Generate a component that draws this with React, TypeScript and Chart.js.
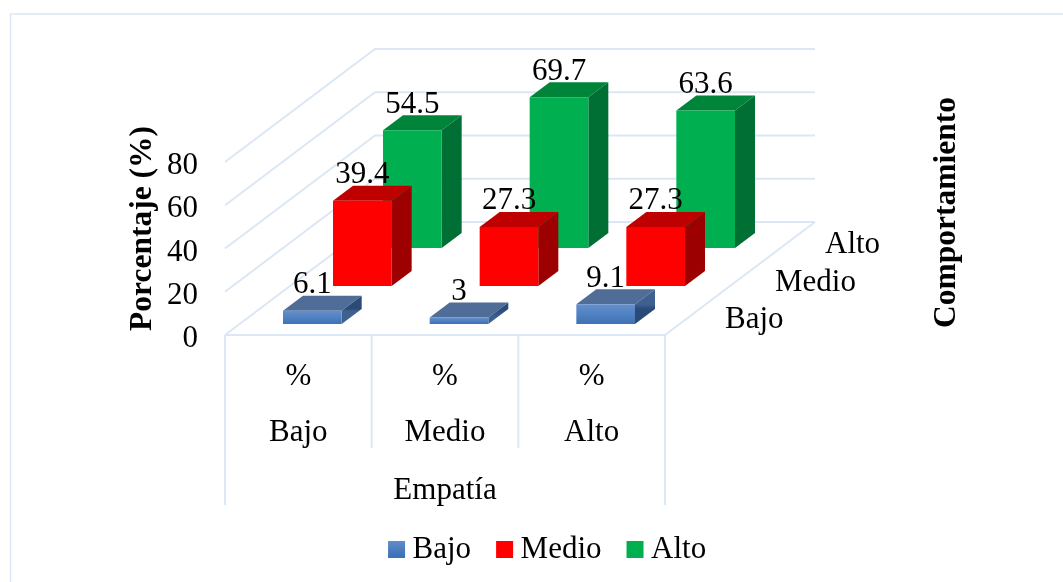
import React, { useEffect, useRef } from "react";
import { Chart, registerables } from "chart.js";

Chart.register(...registerables);

const empatiaLabels = ["Bajo", "Medio", "Alto"];
const unitLabel = "%";
const seriesNames = ["Bajo", "Medio", "Alto"];
const bajoValues = [6.1, 3, 9.1];
const medioValues = [39.4, 27.3, 27.3];
const altoValues = [54.5, 69.7, 63.6];
const yTitle = "Porcentaje (%)";
const xTitle = "Empatía";
const depthTitle = "Comportamiento";

const FONT = "'Liberation Serif', 'Times New Roman', serif";
const FS = 31;
const GRID = "#dce7f5";
// pseudo-3D geometry
const WALL_DX = 150;
const WALL_DY = -113;
const ROW_OFFSETS = [
  { dx: 14, dy: -11 },
  { dx: 64, dy: -49 },
  { dx: 114, dy: -87 },
];
const BAR_DX = 20;
const BAR_DY = -15;
const FACES = [
  { top: "#4f6d96", side: ["#3f618f", "#2a4a78"] },
  { top: "#bf0000", side: ["#9c0000", "#9c0000"] },
  { top: "#00843a", side: ["#006f33", "#006f33"] },
];

const line = (ctx: CanvasRenderingContext2D, pts: number[][]) => {
  ctx.beginPath();
  pts.forEach((p, i) => (i ? ctx.lineTo(p[0], p[1]) : ctx.moveTo(p[0], p[1])));
  ctx.stroke();
};
const poly = (ctx: CanvasRenderingContext2D, pts: number[][], fill: any) => {
  ctx.fillStyle = fill;
  ctx.beginPath();
  pts.forEach((p, i) => (i ? ctx.lineTo(p[0], p[1]) : ctx.moveTo(p[0], p[1])));
  ctx.closePath();
  ctx.fill();
};

const threeD = {
  id: "threeD",
  afterLayout(chart: any) {
    const l = chart.legend;
    l.left += 156.6;
    l.right += 156.6;
    l.top -= 7;
    l.bottom -= 7;
  },
  afterDatasetsUpdate(chart: any) {
    chart.data.datasets.forEach((_: any, i: number) => {
      const off = ROW_OFFSETS[i];
      chart.getDatasetMeta(i).data.forEach((el: any) => {
        el.x += off.dx;
        el.y += off.dy;
        el.base += off.dy;
      });
    });
  },
  beforeDraw(chart: any) {
    const ctx = chart.ctx;
    ctx.save();
    ctx.strokeStyle = GRID;
    ctx.lineWidth = 1.5;
    line(ctx, [
      [10.5, chart.height + 2],
      [10.5, 14],
      [chart.width + 2, 14],
    ]);
    ctx.restore();
  },
  beforeDatasetsDraw(chart: any) {
    const { ctx, scales } = chart;
    const { x, y } = scales;
    ctx.save();
    ctx.strokeStyle = GRID;
    ctx.lineWidth = 2;
    y.ticks.forEach((t: any) => {
      const p = y.getPixelForValue(t.value);
      line(ctx, [
        [x.left, p],
        [x.left + WALL_DX, p + WALL_DY],
        [x.right + WALL_DX, p + WALL_DY],
      ]);
    });
    const b = y.getPixelForValue(0);
    line(ctx, [
      [x.right, b],
      [x.right + WALL_DX, b + WALL_DY],
    ]);
    line(ctx, [
      [x.left, b],
      [x.right, b],
    ]);
    // category dividers under the floor
    const cw = (x.right - x.left) / empatiaLabels.length;
    for (let i = 0; i <= empatiaLabels.length; i++) {
      const outer = i === 0 || i === empatiaLabels.length;
      line(ctx, [
        [x.left + i * cw, b],
        [x.left + i * cw, b + (outer ? 170 : 113)],
      ]);
    }
    ctx.restore();
  },
  beforeDatasetDraw(chart: any, args: any) {
    const ctx = chart.ctx;
    const face = FACES[args.index];
    args.meta.data.forEach((el: any) => {
      const l = el.x - el.width / 2;
      const r = el.x + el.width / 2;
      const t = el.y;
      const b = el.base;
      poly(ctx, [[l, t], [l + BAR_DX, t + BAR_DY], [r + BAR_DX, t + BAR_DY], [r, t]], face.top);
      const g = ctx.createLinearGradient(0, t, 0, b + BAR_DY);
      g.addColorStop(0, face.side[0]);
      g.addColorStop(1, face.side[1]);
      poly(ctx, [[r, t], [r + BAR_DX, t + BAR_DY], [r + BAR_DX, b + BAR_DY], [r, b]], g);
    });
  },
  afterDatasetsDraw(chart: any) {
    const ctx = chart.ctx;
    const { x, y } = chart.scales;
    ctx.save();
    ctx.fillStyle = "#000";
    ctx.font = `${FS}px ${FONT}`;
    ctx.textAlign = "center";
    ctx.textBaseline = "alphabetic";
    chart.data.datasets.forEach((ds: any, i: number) => {
      chart.getDatasetMeta(i).data.forEach((el: any, j: number) => {
        ctx.fillText(String(ds.data[j]), el.x, el.y + BAR_DY - 2.5);
      });
    });
    // depth axis labels
    ctx.textAlign = "left";
    ctx.textBaseline = "middle";
    const b = y.getPixelForValue(0);
    seriesNames.forEach((n, i) => {
      ctx.fillText(n, x.right + 60 + i * 50, b - 15 - i * 37.5);
    });
    // axis titles
    ctx.font = `bold 31.5px ${FONT}`;
    ctx.textAlign = "center";
    [
      { text: yTitle, px: 142.5, py: 228.5 },
      { text: depthTitle, px: 947, py: 212.5 },
    ].forEach((t) => {
      ctx.save();
      ctx.translate(t.px, t.py);
      ctx.rotate(-Math.PI / 2);
      ctx.fillText(t.text, 0, 0);
      ctx.restore();
    });
    ctx.restore();
  },
};

const blueGradient = (ctx: CanvasRenderingContext2D, top: number, bottom: number) => {
  const g = ctx.createLinearGradient(0, top, 0, bottom);
  g.addColorStop(0, "#6490cc");
  g.addColorStop(1, "#3d72b6");
  return g;
};

export default function App() {
  const ref = useRef<HTMLCanvasElement | null>(null);
  useEffect(() => {
    const chart = new Chart(ref.current as HTMLCanvasElement, {
      type: "bar",
      data: {
        labels: empatiaLabels.map((n) => [unitLabel, n]),
        datasets: [
          {
            label: seriesNames[0],
            data: bajoValues,
            order: 1,
            clip: false,
            backgroundColor: (c: any) => {
              if (c.raw === undefined || !c.chart.scales.y) return "#4f81bd";
              const y = c.chart.scales.y;
              const d = ROW_OFFSETS[0].dy;
              return blueGradient(c.chart.ctx, y.getPixelForValue(c.raw) + d, y.getPixelForValue(0) + d);
            },
          },
          { label: seriesNames[1], data: medioValues, order: 2, clip: false, backgroundColor: "#ff0000" },
          { label: seriesNames[2], data: altoValues, order: 3, clip: false, backgroundColor: "#00b050" },
        ] as any,
      },
      options: {
        responsive: false,
        animation: false,
        devicePixelRatio: 1,
        layout: { padding: { left: 124, right: 398, top: 162, bottom: 0 } },
        datasets: { bar: { grouped: false, barPercentage: 0.4, categoryPercentage: 1 } },
        plugins: {
          tooltip: { enabled: false },
          legend: {
            position: "bottom",
            labels: {
              color: "#000",
              font: { family: FONT, size: FS },
              boxWidth: 1,
              boxHeight: 1,
              padding: 33,
              generateLabels: (chart: any) =>
                seriesNames.map((n, i) => {
                  const fill = i === 0 ? blueGradient(chart.ctx, 539, 556) : i === 1 ? "#ff0000" : "#00b050";
                  return { text: n, fillStyle: fill, strokeStyle: fill, lineWidth: 16, datasetIndex: i, fontColor: "#000" };
                }),
            },
          },
        },
        scales: {
          x: {
            grid: { display: false },
            border: { display: false },
            ticks: {
              color: "#000",
              autoSkip: false,
              maxRotation: 0,
              padding: 6,
              labelOffset: 0,
              font: { family: FONT, size: FS, lineHeight: "56px" },
            },
            title: {
              display: true,
              text: xTitle,
              color: "#000",
              font: { family: FONT, size: FS },
              padding: { top: 0, bottom: -1 },
            },
            afterFit: (s: any) => {
              s.height = 247 - s.chart.legend.height;
            },
          },
          y: {
            min: 0,
            max: 80,
            grid: { display: false, drawTicks: false },
            border: { display: false },
            ticks: {
              stepSize: 20,
              color: "#000",
              padding: 27,
              labelOffset: 4,
              font: { family: FONT, size: FS },
            },
            afterFit: (s: any) => {
              s.width = 101;
            },
          },
        },
      },
      plugins: [threeD],
    } as any);
    return () => chart.destroy();
  }, []);
  return (
    <canvas
      ref={ref}
      width={1063}
      height={582}
      style={{ position: "absolute", left: 0, top: 0, width: 1063, height: 582, display: "block", background: "#fff" }}
    />
  );
}
